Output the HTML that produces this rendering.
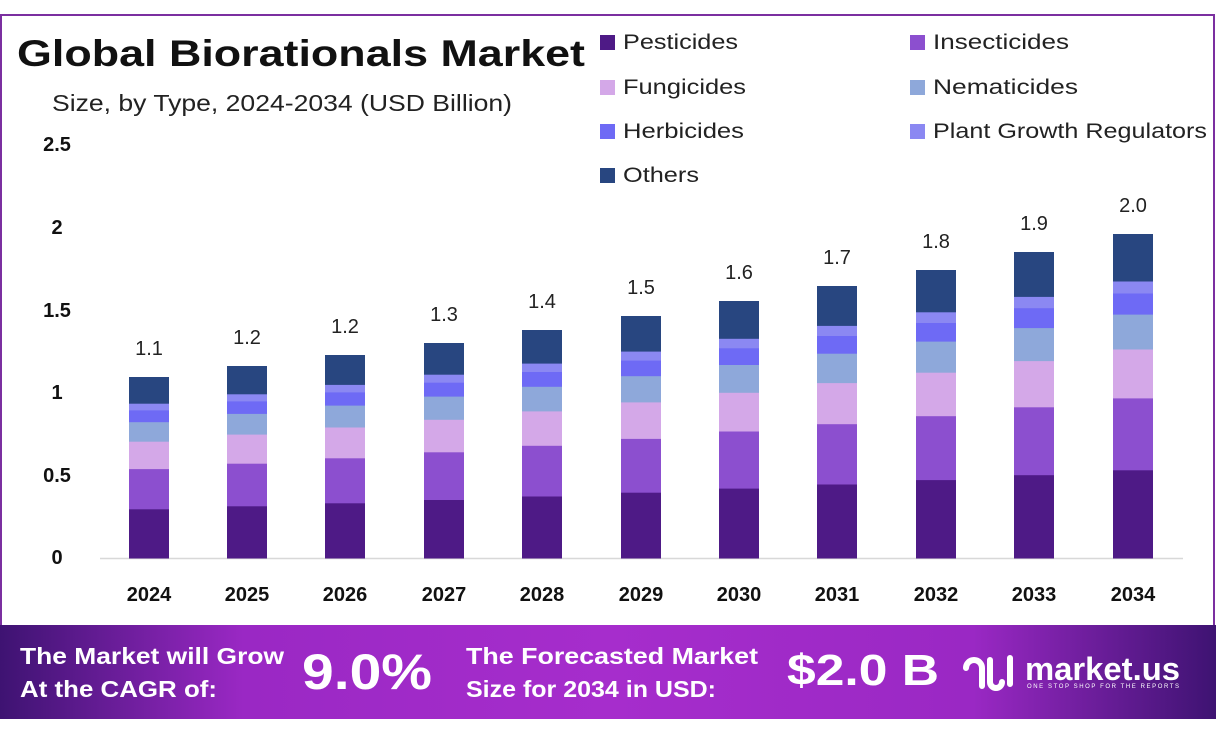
<!DOCTYPE html>
<html><head><meta charset="utf-8"><style>
body{margin:0;width:1216px;height:735px;background:#fff;overflow:hidden;font-family:"Liberation Sans",sans-serif}
</style></head><body>
<svg id="s" width="1216" height="735" xmlns="http://www.w3.org/2000/svg" font-family="Liberation Sans, sans-serif">
<defs>
<linearGradient id="g" x1="0" x2="1" y1="0" y2="0">
<stop offset="0" stop-color="#3e1372"/><stop offset="0.2" stop-color="#9a28c4"/><stop offset="0.5" stop-color="#a62dcc"/><stop offset="0.8" stop-color="#9a28c4"/><stop offset="1" stop-color="#3e1372"/></linearGradient>
</defs>
<rect x="1" y="15" width="1213" height="700" fill="none" stroke="#7b2fa0" stroke-width="2"/>
<text x="17" y="66" font-size="37" font-weight="bold" fill="#111" textLength="568" lengthAdjust="spacingAndGlyphs">Global Biorationals Market</text>
<text x="52" y="111" font-size="23" fill="#222" textLength="460" lengthAdjust="spacingAndGlyphs">Size, by Type, 2024-2034 (USD Billion)</text>
<g font-size="20" font-weight="bold" fill="#111" text-anchor="middle">
<text x="57" y="151">2.5</text><text x="57" y="234">2</text><text x="57" y="317">1.5</text><text x="57" y="399">1</text><text x="57" y="482">0.5</text><text x="57" y="564">0</text>
</g>
<line x1="100" y1="558.5" x2="1183" y2="558.5" stroke="#d8d8d8" stroke-width="1.5"/>
<g font-size="21" fill="#222">
<rect x="600" y="35" width="15" height="15" fill="#4e1a86"/><text x="623" y="49" textLength="115" lengthAdjust="spacingAndGlyphs">Pesticides</text>
<rect x="910" y="35" width="15" height="15" fill="#8c4fcf"/><text x="933" y="49" textLength="136" lengthAdjust="spacingAndGlyphs">Insecticides</text>
<rect x="600" y="80" width="15" height="15" fill="#d4a8e8"/><text x="623" y="94" textLength="123" lengthAdjust="spacingAndGlyphs">Fungicides</text>
<rect x="910" y="80" width="15" height="15" fill="#8ea8da"/><text x="933" y="94" textLength="145" lengthAdjust="spacingAndGlyphs">Nematicides</text>
<rect x="600" y="124" width="15" height="15" fill="#6e6af5"/><text x="623" y="138" textLength="121" lengthAdjust="spacingAndGlyphs">Herbicides</text>
<rect x="910" y="124" width="15" height="15" fill="#8b88f2"/><text x="933" y="138" textLength="274" lengthAdjust="spacingAndGlyphs">Plant Growth Regulators</text>
<rect x="600" y="168" width="15" height="15" fill="#284680"/><text x="623" y="182" textLength="76" lengthAdjust="spacingAndGlyphs">Others</text>
</g>
<g id="bars"></g>
<rect x="0" y="625" width="1216" height="94" fill="url(#g)"/>
<g fill="#fff" font-weight="bold">
<text x="20" y="664" font-size="23" textLength="264" lengthAdjust="spacingAndGlyphs">The Market will Grow</text>
<text x="20" y="697" font-size="23" textLength="197" lengthAdjust="spacingAndGlyphs">At the CAGR of:</text>
<text x="302" y="689" font-size="50" textLength="130" lengthAdjust="spacingAndGlyphs">9.0%</text>
<text x="466" y="664" font-size="23" textLength="292" lengthAdjust="spacingAndGlyphs">The Forecasted Market</text>
<text x="466" y="697" font-size="23" textLength="250" lengthAdjust="spacingAndGlyphs">Size for 2034 in USD:</text>
<text x="787" y="685" font-size="44" textLength="152" lengthAdjust="spacingAndGlyphs">$2.0 B</text>
<text x="1025" y="680" font-size="32" textLength="155" lengthAdjust="spacingAndGlyphs">market.us</text>
<text x="1027" y="688" font-size="6" font-weight="normal" textLength="152">ONE STOP SHOP FOR THE REPORTS</text>
<path d="M966 668a8 8 0 0 1 16 0v18M990 660v22a6 6 0 0 0 12 0M1010 658v26" stroke="#fff" stroke-width="6" fill="none" stroke-linecap="round"/>
</g>
</svg>
<script>
var cx=[149,247,345,444,542,641,739,837,936,1034,1133];
var tops=[377,366,355,343,330,316,301,286,270,252,234];
var labs=["1.1","1.2","1.2","1.3","1.4","1.5","1.6","1.7","1.8","1.9","2.0"];
var yrs=[2024,2025,2026,2027,2028,2029,2030,2031,2032,2033,2034];
var fr=[.272,.222,.151,.108,.065,.037,.145];
var col=["#4e1a86","#8c4fcf","#d4a8e8","#8ea8da","#6e6af5","#8b88f2","#284680"];
var h="";
for(var i=0;i<11;i++){var H=558-tops[i],y=558;
for(var k=0;k<7;k++){var hh=H*fr[k];y-=hh;h+='<rect x="'+(cx[i]-20)+'" y="'+y.toFixed(1)+'" width="40" height="'+(hh+0.5).toFixed(1)+'" fill="'+col[k]+'"/>';}
h+='<text x="'+cx[i]+'" y="'+(tops[i]-22)+'" font-size="20" text-anchor="middle" fill="#222">'+labs[i]+'</text>';
h+='<text x="'+cx[i]+'" y="601" font-size="20" font-weight="bold" text-anchor="middle" fill="#111">'+yrs[i]+'</text>';}
document.getElementById("bars").innerHTML=h;
</script>
</body></html>
